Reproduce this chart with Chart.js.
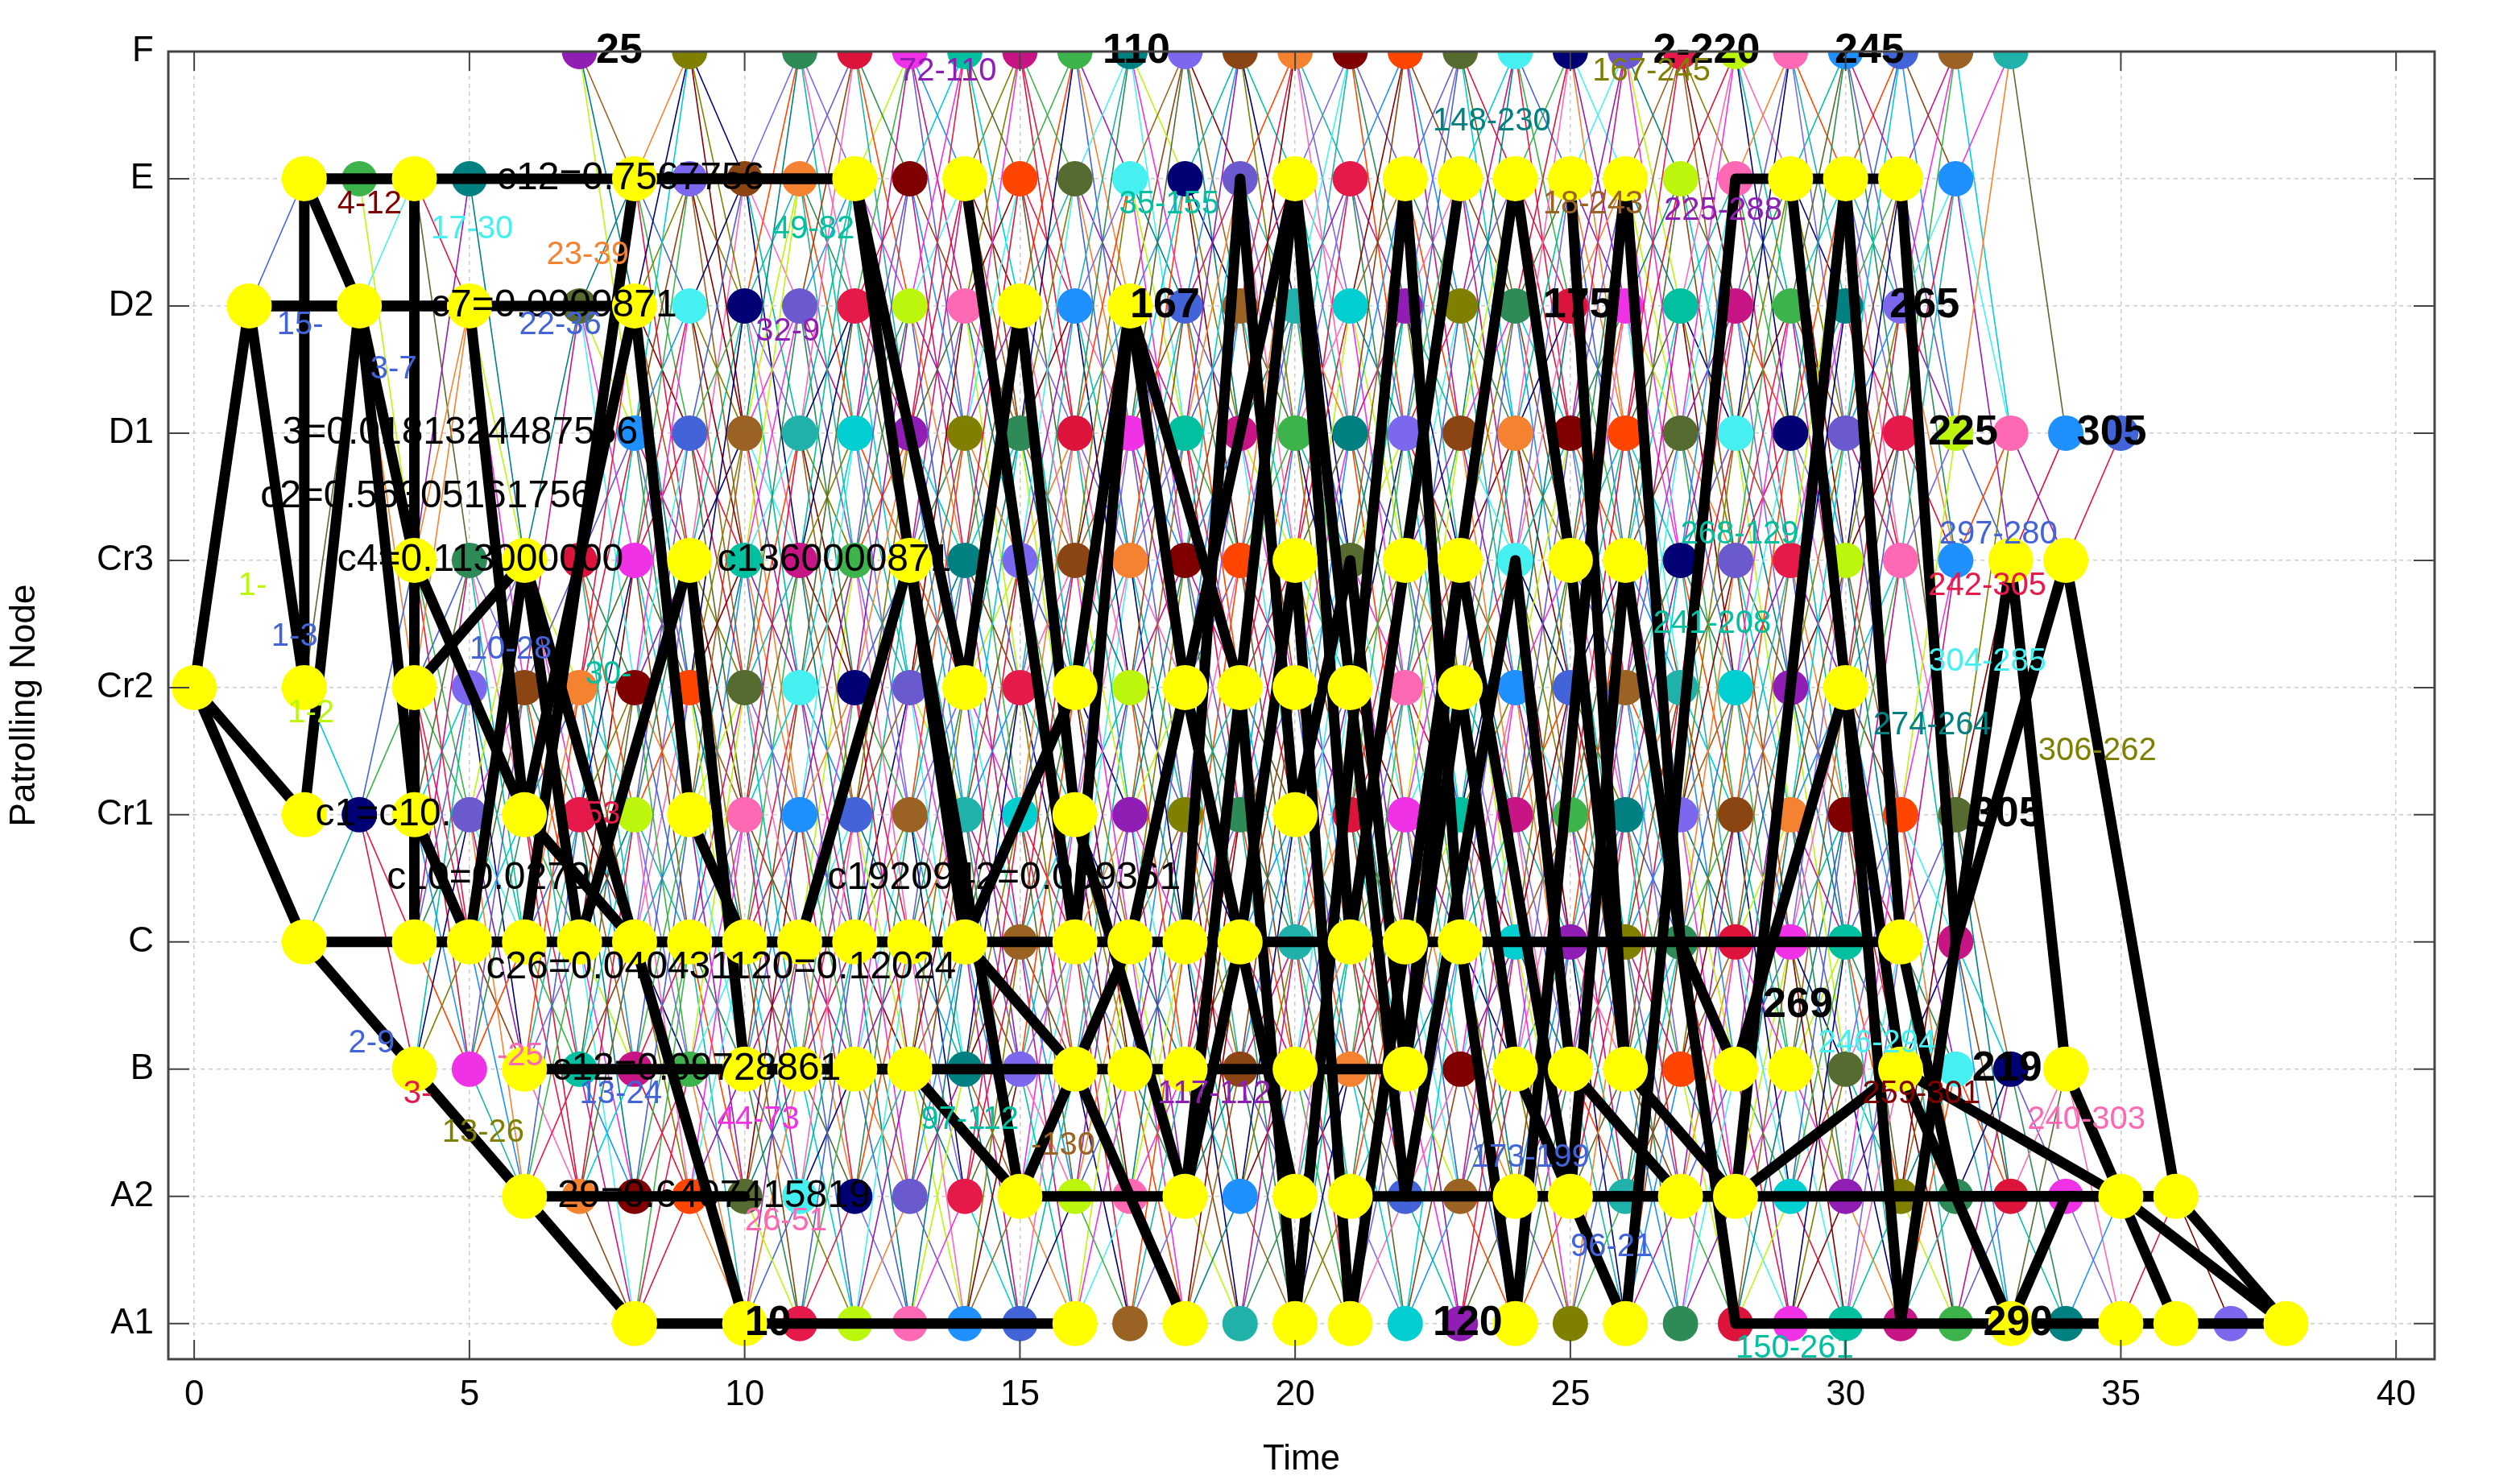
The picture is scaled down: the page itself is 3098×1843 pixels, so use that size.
<!DOCTYPE html>
<html><head><meta charset="utf-8">
<script src="https://cdn.jsdelivr.net/npm/chart.js@4/dist/chart.umd.min.js"></script>
<style>html,body{margin:0;padding:0;background:#fff}canvas{display:block}</style>
</head><body><canvas id="c" width="3098" height="1843"></canvas>
<script>
const nodeNames = ["A1","A2","B","C","Cr1","Cr2","Cr3","D1","D2","E","F"];
const xTicks = [0,5,10,15,20,25,30,35,40];

const yellowTimes = {
  9:[2,4,8,12,14,20,22,23,24,25,26,29,30,31],
  8:[1,3,5,8,15,17],
  6:[4,6,9,13,20,22,23,25,26,33,34],
  5:[0,2,4,14,16,18,19,20,21,23,30],
  4:[2,4,6,9,16,20],
  3:[2,4,5,6,7,8,9,10,11,12,13,14,16,17,18,19,21,22,23,31],
  2:[4,6,10,11,12,13,16,17,18,20,22,24,25,26,28,29,31,34],
  1:[6,15,18,20,21,24,25,27,28,35,36],
  0:[8,10,16,18,20,21,24,26,33,35,36,38]
};
const dotTimes = {
  10:[7,9,11,12,13,14,15,16,17,18,19,20,21,22,23,24,25,26,27,28,29,30,31,32,33],
  9:[3,5,9,10,11,13,15,16,17,18,19,21,27,28,32],
  8:[7,9,10,11,12,13,14,16,18,19,20,21,22,23,24,25,26,27,28,29,30,31],
  7:[8,9,10,11,12,13,14,15,16,17,18,19,20,21,22,23,24,25,26,27,28,29,30,31,32,33,34,35],
  6:[5,7,8,10,11,12,14,15,16,17,18,19,21,24,27,28,29,30,31,32],
  5:[5,6,7,8,9,10,11,12,13,15,17,22,24,25,26,27,28,29],
  4:[3,5,7,8,10,11,12,13,14,15,17,18,19,21,22,23,24,25,26,27,28,29,30,31,32],
  3:[15,20,24,25,26,27,28,29,30,32],
  2:[5,7,8,9,14,15,19,21,23,27,30,32,33],
  1:[7,8,9,10,11,12,13,14,16,17,19,22,23,26,29,30,31,32,33,34],
  0:[11,12,13,14,15,17,19,22,23,25,27,28,29,30,31,32,34,37]
};
const routes = [
  [[0,5],[1,8],[2,8],[3,8],[4,6],[6,4],[8,3],[10,0],[16,0]],
  [[0,5],[2,3],[4,2],[6,1],[8,0],[10,0]],
  [[1,8],[2,5],[2,9],[4,9],[4,3],[6,3],[8,9],[12,9],[13,6],[14,3],[16,2],[17,3],[18,5],[20,1]],
  [[2,9],[3,8],[4,4],[5,3],[6,6],[7,3],[9,6],[10,2],[13,2],[15,1],[16,2],[18,0]],
  [[0,5],[2,4],[3,8],[5,8],[6,4],[8,8],[9,4],[10,3],[14,3],[16,5],[17,8],[18,5],[20,9],[21,3],[22,6],[23,9]],
  [[4,5],[6,6],[8,3],[11,3],[13,6],[15,1],[18,1],[19,3],[20,6],[21,0],[24,9],[25,6],[26,2]],
  [[12,9],[14,5],[15,8],[16,4],[18,1],[20,9],[21,5],[22,1],[24,6],[25,2],[27,1],[28,1]],
  [[14,9],[16,3],[17,8],[19,5],[20,0],[22,9],[23,3],[24,0],[26,9],[27,3],[28,2],[30,5],[31,2],[35,1]],
  [[18,3],[19,9],[20,4],[21,6],[22,2],[23,6],[25,1],[26,6],[28,0],[31,0],[33,6],[34,2],[36,0]],
  [[20,2],[22,2],[23,5],[24,2],[26,0],[28,9],[30,9],[31,3],[32,1],[35,1],[38,0]],
  [[25,9],[26,2],[28,1],[30,9],[31,9],[32,3],[34,6],[36,1],[38,0]],
  [[29,9],[30,5],[31,0],[33,0],[35,0],[36,0],[38,0]],
  [[24,1],[28,1],[31,2],[33,0],[34,1],[36,1]],
  [[2,9],[12,9]],[[1,8],[8,8]],[[6,2],[20,2]],[[6,1],[10,1]],[[21,1],[36,1]],[[2,3],[31,3]]
];
const palette = ["#e6194b","#3cb44b","#4363d8","#f58231","#911eb4","#46f0f0","#f032e6","#bcf60c",
 "#008080","#9a6324","#800000","#808000","#000075","#00c0a0","#ff69b4","#7b68ee","#20b2aa",
 "#ff4500","#2e8b57","#6a5acd","#c71585","#1e90ff","#8b4513","#00ced1","#556b2f","#dc143c"];
const notes = [
  [7.3,10,"25",-1],[16.5,10,"110",-1],[26.5,10,"2-220",-1],[29.8,10,"245",-1],
  [12.8,9.84,"72-110",4],[22.5,9.45,"148-230",8],[25.4,9.84,"167-245",11],
  [2.6,8.8,"4-12",10],[4.3,8.6,"17-30",5],[6.4,8.4,"23-39",3],[10.5,8.6,"49-82",13],
  [16.8,8.8,"35-155",13],[26.7,8.75,"225-288",4],[24.5,8.8,"18-243",9],
  [4.3,8,"c7=0.0009871",-2],[5.5,9,"c12=0.7567756",-2],[30.8,8,"265",-1],[31.5,7,"225",-1],
  [34.2,7,"305",-1],[32.3,4,"305",-1],
  [1.5,7.85,"15-",2],[3.2,7.5,"3-7",2],[5.9,7.85,"22-36",2],[10.2,7.8,"32-9",4],
  [1.6,7,"3=0.0181324487556",-2],[1.2,6.5,"c2=0.56305161756",-2],
  [2.6,6,"c4=0.113000000",-2],[9.5,6,"c1360000871",-2],
  [0.8,5.8,"1-",7],[1.4,5.4,"1-3",2],[1.7,4.8,"1-2",7],[5,5.3,"10-28",2],[7.1,5.1,"30-",13],
  [2.2,4,"c1=c10.",-2],[3.5,3.5,"c10=0.0279",-2],[11.5,3.5,"c1920942=0.059361",-2],
  [5.3,2.8,"c26=0.040431120=0.12024",-2],[6.8,4,"c53",0],
  [2.8,2.2,"2-9",2],[5.5,2.1,"-25",14],[13.2,1.6,"97-112",13],[15.2,1.4,"-130",9],
  [6.5,2,"c12=0.09728861",-2],[3.8,1.8,"3-",0],[4.5,1.5,"13-26",11],[7,1.8,"13-24",2],
  [9.5,1.6,"44-73",6],[6.6,1,"29=0.6407415819",-2],[10,0.8,"26-51",14],
  [17.5,1.8,"117-112",4],[23.2,1.3,"173-199",2],[25,0.6,"96-21",2],[28,-0.2,"150-261",13],
  [29.5,2.2,"246-294",5],[30.3,1.8,"259-301",10],[33.3,1.6,"240-303",14],[33.5,4.5,"306-262",11],
  [30.5,4.7,"274-264",8],[31.5,5.2,"304-285",5],[31.5,5.8,"242-305",0],[31.7,6.2,"297-280",2],
  [26.5,5.5,"241-208",13],[27,6.2,"268-129",13],[28.5,2.5,"269",-1],[32.3,2,"219",-1],
  [10,0,"10",-1],[22.5,0,"120",-1],[32.5,0,"290",-1],[17,8,"167",-1],[24.5,8,"175",-1]
];

const datasets = [];
let ci = 0;
const allNodes = {};
for (const r in dotTimes) dotTimes[r].forEach(t => (allNodes[t+"_"+r] = 1));
for (const r in yellowTimes) yellowTimes[r].forEach(t => (allNodes[t+"_"+r] = 1));
const keys = Object.keys(allNodes).map(k => k.split("_").map(Number));
keys.forEach(([t, r]) => {
  [-3,-2,-1,1,2,3].forEach(d => {
    const r2 = r + d;
    if (allNodes[(t+1)+"_"+r2]) {
      datasets.push({data:[{x:t,y:r},{x:t+1,y:r2}],showLine:true,borderColor:palette[ci++%palette.length],
        borderWidth:1.6,pointRadius:0,order:5});
    }
  });
});
for (const r in dotTimes) {
  datasets.push({data:dotTimes[r].map(t=>({x:t,y:+r})),showLine:false,pointRadius:22,
    pointBackgroundColor:dotTimes[r].map((t,i)=>palette[(i*7+ +r*3)%palette.length]),pointBorderWidth:0,order:4});
}
routes.forEach(rt => datasets.push({data:rt.map(([t,r])=>({x:t,y:r})),showLine:true,borderColor:"#000",
  borderWidth:13,borderJoinStyle:"round",borderCapStyle:"round",pointRadius:0,order:2}));
for (const r in yellowTimes) {
  datasets.push({data:yellowTimes[r].map(t=>({x:t,y:+r})),showLine:false,pointRadius:28,
    pointBackgroundColor:"#ffff00",pointBorderWidth:0,order:1});
}

const notePlugin = {
  id:"notes",
  afterDatasetsDraw(chart){
    const {ctx,scales:{x,y},chartArea:a} = chart;
    ctx.save();
    ctx.beginPath();ctx.rect(a.left,0,a.right-a.left,a.bottom);ctx.clip();
    ctx.textBaseline="middle";
    notes.forEach(([t,r,s,c])=>{
      if (c===-1){ctx.font="bold 52px 'Liberation Sans'";ctx.fillStyle="#000";}
      else if (c===-2){ctx.font="48px 'Liberation Sans'";ctx.fillStyle="#000";}
      else {ctx.font="40px 'Liberation Sans'";ctx.fillStyle=palette[c];}
      ctx.fillText(s,x.getPixelForValue(t),y.getPixelForValue(r));
    });
    ctx.restore();
    ctx.strokeStyle="#444";ctx.lineWidth=3;
    ctx.strokeRect(a.left,a.top,a.right-a.left,a.bottom-a.top);
    ctx.lineWidth=2;
    xTicks.forEach(v=>{const px=x.getPixelForValue(v);ctx.beginPath();ctx.moveTo(px,a.bottom);ctx.lineTo(px,a.bottom-24);ctx.moveTo(px,a.top);ctx.lineTo(px,a.top+24);ctx.stroke();});
    nodeNames.forEach((n,i)=>{const py=y.getPixelForValue(i);ctx.beginPath();ctx.moveTo(a.left,py);ctx.lineTo(a.left+26,py);ctx.moveTo(a.right,py);ctx.lineTo(a.right-26,py);ctx.stroke();});
  }
};

new Chart(document.getElementById("c"),{
  type:"scatter",
  data:{datasets},
  options:{
    responsive:false,animation:false,
    layout:{padding:{top:64,right:75,left:0,bottom:0}},
    plugins:{legend:{display:false},tooltip:{enabled:false}},
    scales:{
      x:{min:-0.47,max:40.7,afterBuildTicks:s=>{s.ticks=xTicks.map(v=>({value:v}));},
        grid:{color:"#cccccc",lineWidth:1.5,drawTicks:false},border:{display:false,dash:[5,5]},
        ticks:{font:{size:44,family:"Liberation Sans"},color:"#000",padding:18},
        title:{display:true,text:"Time",font:{size:44,family:"Liberation Sans"},color:"#000",padding:{top:0}},
        afterFit:s=>{s.height=155;}},
      y:{min:-0.28,max:10,afterBuildTicks:s=>{s.ticks=nodeNames.map((n,i)=>({value:i}));},
        grid:{color:"#cccccc",lineWidth:1.5,drawTicks:false},border:{display:false,dash:[5,5]},
        ticks:{font:{size:44,family:"Liberation Sans"},color:"#000",padding:18,callback:v=>nodeNames[v]},
        title:{display:true,text:"Patrolling Node",font:{size:44,family:"Liberation Sans"},color:"#000"},
        afterFit:s=>{s.width=209;}}
    }
  },
  plugins:[notePlugin]
});
</script></body></html>
